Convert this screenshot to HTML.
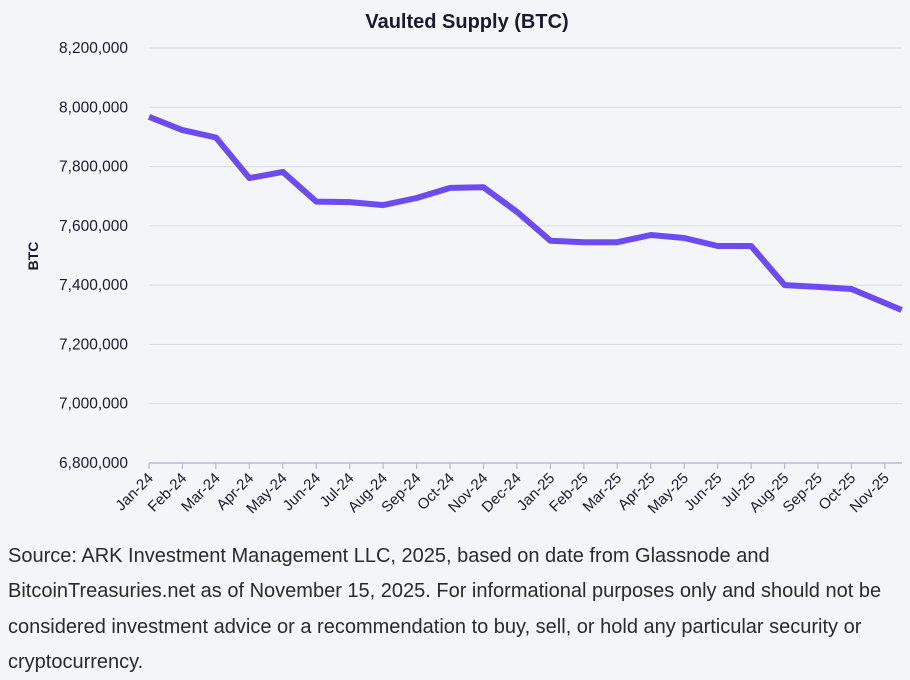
<!DOCTYPE html>
<html><head><meta charset="utf-8"><style>
body{margin:0;width:910px;height:678px;background:#f4f5f8;overflow:hidden;font-family:"Liberation Sans",sans-serif}
#foot{position:absolute;left:8px;top:539px;width:885px;font-size:20px;line-height:35.3px;color:#2a2a2a}
</style></head><body>
<svg id="chart" width="910" height="540" style="position:absolute;left:0;top:0">
<text x="467" y="28" text-anchor="middle" font-size="20" font-weight="bold" fill="#1a1a2e">Vaulted Supply (BTC)</text>
<text transform="translate(38,256) rotate(-90)" text-anchor="middle" font-size="14" font-weight="bold" fill="#1a1a2e">BTC</text>
<g id="grid"></g><g id="xa"></g><g id="ya"></g>
<path id="line" fill="none" stroke="#6c4cf2" stroke-width="6" stroke-linejoin="round"/>
</svg>
<div id="foot">Source: ARK Investment Management LLC, 2025, based on date from Glassnode and BitcoinTreasuries.net as of November 15, 2025. For informational purposes only and should not be considered investment advice or a recommendation to buy, sell, or hold any particular security or cryptocurrency.</div>
<script>
const categories=["Jan-24","Feb-24","Mar-24","Apr-24","May-24","Jun-24","Jul-24","Aug-24","Sep-24","Oct-24","Nov-24","Dec-24","Jan-25","Feb-25","Mar-25","Apr-25","May-25","Jun-25","Jul-25","Aug-25","Sep-25","Oct-25","Nov-25"];
const pointIndex=[0,1,2,3,4,5,6,7,8,9,10,11,12,13,14,15,16,17,18,19,20,21,22.5];
const values=[7968000,7923000,7898000,7761000,7782000,7682000,7680000,7670000,7694000,7728000,7730000,7647000,7550000,7545000,7545000,7569000,7559000,7532000,7532000,7400000,7394000,7387000,7316000];
const yTicks=[6800000,7000000,7200000,7400000,7600000,7800000,8000000,8200000];
const X0=149,DX=33.45,Y0=463,YT=48,VMIN=6800000,VMAX=8200000;
const x=i=>X0+i*DX, y=v=>Y0-(v-VMIN)/(VMAX-VMIN)*(Y0-YT);
const NS="http://www.w3.org/2000/svg";
const mk=(t,a,p)=>{const e=document.createElementNS(NS,t);for(const k in a)e.setAttribute(k,a[k]);p.appendChild(e);return e;};
const grid=document.getElementById('grid'),ya=document.getElementById('ya'),xa=document.getElementById('xa');
yTicks.forEach(v=>{
 const l=mk('line',{x1:149,x2:902,y1:y(v),y2:y(v),stroke:v===VMIN?'#b8bccb':'#d9dbe3','stroke-width':v===VMIN?1.5:1},grid);
 
 
 const t=mk('text',{x:128,y:y(v)+5,'text-anchor':'end','font-size':15.5,fill:'#1a1a2e'},ya);
 t.textContent=v.toLocaleString('en-US');
 
 
});
categories.forEach((c,i)=>{
 const tk=mk('line',{x1:x(i),x2:x(i),y1:463,y2:469,stroke:'#b8bccb','stroke-width':1.2},xa);
 
 
 const t=mk('text',{transform:`translate(${x(i)+5},479) rotate(-45)`,'text-anchor':'end','font-size':15,fill:'#1a1a2e'},xa);
 t.textContent=c;
 
 
});
document.getElementById('line').setAttribute('d',values.map((v,i)=>(i?'L':'M')+x(pointIndex[i]).toFixed(1)+','+y(v).toFixed(1)).join(''));
</script>
</body></html>
